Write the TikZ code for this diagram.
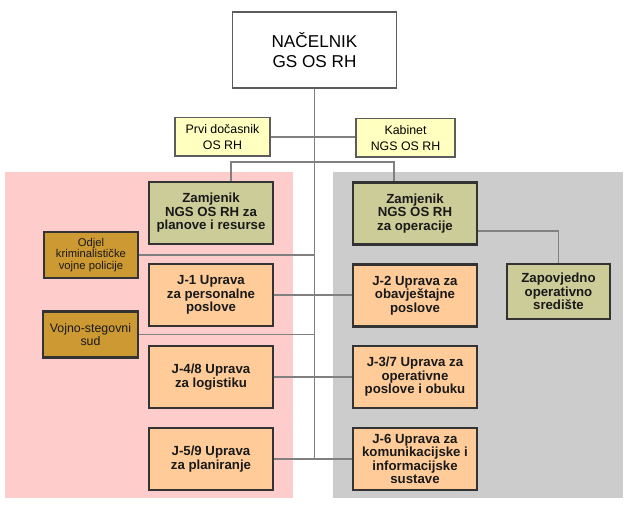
\documentclass[tikz,border=0pt]{standalone}
\usepackage{fontspec}
\setmainfont{Liberation Sans}
\usetikzlibrary{positioning,calc}
\definecolor{mypink}{RGB}{255,204,204}
\definecolor{mygrayzone}{RGB}{204,204,204}
\definecolor{myolive}{RGB}{204,204,153}
\definecolor{mypeach}{RGB}{255,204,153}
\definecolor{mygold}{RGB}{204,153,51}
\definecolor{mycream}{RGB}{255,255,192}
\definecolor{myline}{RGB}{128,128,128}
\definecolor{myborder}{RGB}{51,51,51}
\tikzset{
  orgbox/.style={draw=myborder,line width=1.5pt,align=center,inner sep=1pt,text=black!90},
  zambox/.style={orgbox,fill=myolive,minimum width=3.1cm,minimum height=1.55cm,
    font=\bfseries\fontsize{9.4}{9.6}\selectfont},
  jbox/.style={orgbox,fill=mypeach,minimum width=3.1cm,minimum height=1.55cm,
    font=\bfseries\fontsize{9.4}{9.6}\selectfont},
  sidebox/.style={orgbox,fill=mygold,minimum width=2.35cm,minimum height=1.15cm},
  staffbox/.style={draw=myborder!80,line width=1pt,fill=mycream,align=center,
    inner sep=1pt,minimum height=0.96cm,font=\fontsize{8.8}{11}\selectfont},
  link/.style={draw=myline,line width=0.9pt}
}

\begin{document}
\begin{tikzpicture}[x=0.025cm,y=-0.025cm]
    \useasboundingbox (0,0) rectangle (640,510);
    % zones
    \fill[mypink] (5,172) rectangle (293,498);
    \fill[mygrayzone] (333,172) rectangle (623,498);
    % top
    \node[draw=myborder!80,line width=1.2pt,fill=white,minimum width=4.1cm,minimum height=1.9cm,
      align=center,font=\fontsize{12.2}{14.6}\selectfont] (chief) at (314.5,50) {NAČELNIK\\GS OS RH};
    \node[staffbox,minimum width=2.375cm] (prvi) at (222.5,137) {Prvi dočasnik\\OS RH};
    \node[staffbox,minimum width=2.475cm] (kabinet) at (405.5,138) {Kabinet\\NGS OS RH};
    % deputies
    \node[zambox] (zamP) at (211,213) {Zamjenik\\NGS OS RH za\\planove i resurse};
    \node[zambox] (zamO) at (415,213.5) {Zamjenik\\NGS OS RH\\za operacije};
    \node[zambox,minimum width=2.575cm,minimum height=1.375cm] (zap) at (558.5,291.5) {Zapovjedno\\operativno\\središte};
    % side units
    \node[sidebox,font=\fontsize{8}{8.4}\selectfont] (odjel) at (91,255) {Odjel\\kriminalističke\\vojne policije};
    \node[sidebox,font=\fontsize{8.8}{9.6}\selectfont,minimum width=2.375cm] (vojno) at (90.5,334.5) {Vojno-stegovni\\sud};
    % J directorates
    \node[jbox] (j1) at (211,295) {J-1 Uprava\\za personalne\\poslove};
    \node[jbox] (j2) at (415,295.5) {J-2 Uprava za\\obavještajne\\poslove};
    \node[jbox] (j48) at (211,377) {J-4/8 Uprava\\za logistiku};
    \node[jbox] (j37) at (415,377) {J-3/7 Uprava za\\operativne\\poslove i obuku};
    \node[jbox] (j59) at (211,459) {J-5/9 Uprava\\za planiranje};
    \node[jbox] (j6) at (415,459) {J-6 Uprava za\\komunikacijske i\\informacijske\\sustave};
    % connectors
    \coordinate (trunkend) at (chief.south |- j59.east);
    \coordinate (splitL) at (231,162);
    \coordinate (splitR) at (394,162);
    \draw[link] (chief.south) -- (trunkend);
    \draw[link] (prvi.east) -- (prvi.east -| kabinet.west);
    \draw[link] (zamP.north -| splitL) -- (splitL) -- (splitR) -- (zamO.north -| splitR);
    \draw[link] (odjel.east) -- (odjel.east -| chief.south);
    \draw[link] (vojno.east) -- (vojno.east -| chief.south);
    \draw[link] (j1.east) -- (j1.east -| j2.west);
    \draw[link] (j48.east) -- (j37.west);
    \draw[link] (j59.east) -- (j6.west);
    \draw[link] ($(zamO.east)+(0,17.5)$) -| (zap.north);
  \end{tikzpicture}
\end{document}
